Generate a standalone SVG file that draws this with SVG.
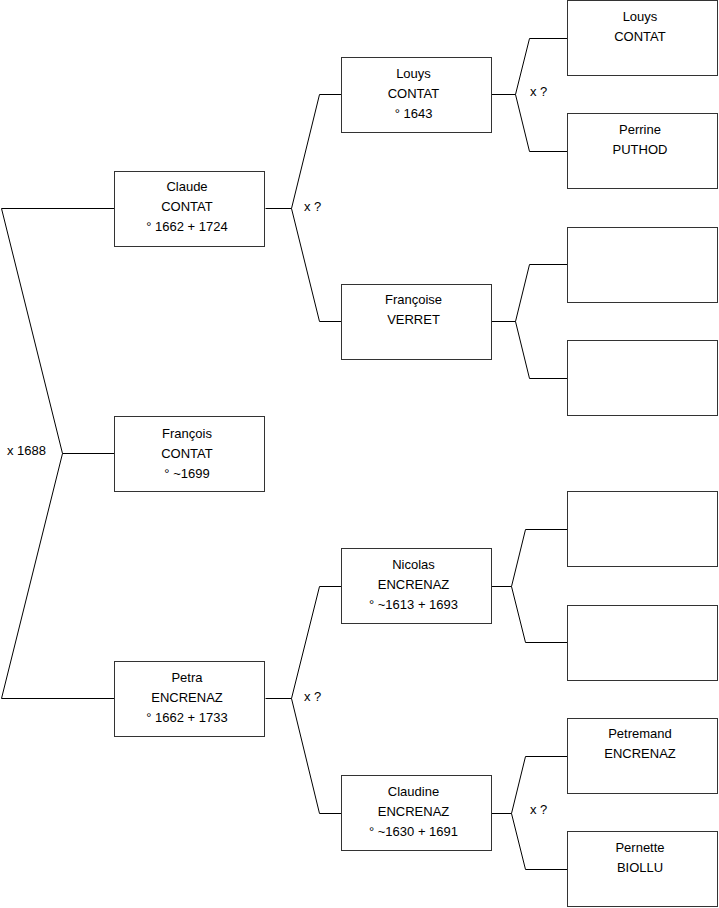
<svg xmlns="http://www.w3.org/2000/svg" width="719" height="908" viewBox="0 0 719 908">
<style>
rect{fill:#fff;stroke:#333;stroke-width:1}
text{font-family:"Liberation Sans",Arial,sans-serif;font-size:13px;fill:#000;text-anchor:middle}
.l{text-anchor:start}
#connectors path{fill:none;stroke:#000;stroke-width:1}
</style>
<rect x="0" y="0" width="719" height="908" style="stroke:none"/>
<g id="connectors">
<path d="M114.5,208.5H1.5L62.5,453.5L1.5,698.5H114.5M62.5,453.5H114.5"/>
<path d="M265.5,208.5H291.5L319.5,94.5H341.5M291.5,208.5L319.5,321.5H341.5"/>
<path d="M265.5,698.5H291.5L319.5,586.5H341.5M291.5,698.5L319.5,813.5H341.5"/>
<path d="M491.5,94.5H515.5L529.5,38.5H567.5M515.5,94.5L529.5,151.5H567.5"/>
<path d="M491.5,321.5H515.5L529.5,264.5H567.5M515.5,321.5L529.5,378.5H567.5"/>
<path d="M491.5,586.5H511.5L525.5,529.5H567.5M511.5,586.5L525.5,642.5H567.5"/>
<path d="M491.5,813.5H511.5L525.5,756.5H567.5M511.5,813.5L525.5,869.5H567.5"/>
<text class="l" x="7" y="455">x 1688</text>
<text class="l" x="304" y="211">x ?</text>
<text class="l" x="304" y="701">x ?</text>
<text class="l" x="530" y="96">x ?</text>
<text class="l" x="530" y="814">x ?</text>
</g>
<g id="claude"><rect x="114.5" y="171.5" width="150" height="75"/><text x="187" y="191">Claude</text><text x="187" y="211">CONTAT</text><text x="187" y="231">° 1662 + 1724</text></g>
<g id="francois"><rect x="114.5" y="416.5" width="150" height="75"/><text x="187" y="438">François</text><text x="187" y="458">CONTAT</text><text x="187" y="478">° ~1699</text></g>
<g id="petra"><rect x="114.5" y="661.5" width="150" height="75"/><text x="187" y="682">Petra</text><text x="187" y="702">ENCRENAZ</text><text x="187" y="722">° 1662 + 1733</text></g>
<g id="louys1"><rect x="341.5" y="57.5" width="150" height="75"/><text x="413.5" y="78">Louys</text><text x="413.5" y="98">CONTAT</text><text x="413.5" y="118">° 1643</text></g>
<g id="francoise"><rect x="341.5" y="284.5" width="150" height="75"/><text x="413.5" y="304">Françoise</text><text x="413.5" y="324">VERRET</text></g>
<g id="nicolas"><rect x="341.5" y="548.5" width="150" height="75"/><text x="413.5" y="569">Nicolas</text><text x="413.5" y="589">ENCRENAZ</text><text x="413.5" y="609">° ~1613 + 1693</text></g>
<g id="claudine"><rect x="341.5" y="775.5" width="150" height="75"/><text x="413.5" y="796">Claudine</text><text x="413.5" y="816">ENCRENAZ</text><text x="413.5" y="836">° ~1630 + 1691</text></g>
<g id="louys2"><rect x="567.5" y="0.5" width="150" height="75"/><text x="640" y="21">Louys</text><text x="640" y="41">CONTAT</text></g>
<g id="perrine"><rect x="567.5" y="113.5" width="150" height="75"/><text x="640" y="134">Perrine</text><text x="640" y="154">PUTHOD</text></g>
<g id="empty1"><rect x="567.5" y="227.5" width="150" height="75"/></g>
<g id="empty2"><rect x="567.5" y="340.5" width="150" height="75"/></g>
<g id="empty3"><rect x="567.5" y="491.5" width="150" height="75"/></g>
<g id="empty4"><rect x="567.5" y="605.5" width="150" height="75"/></g>
<g id="petremand"><rect x="567.5" y="718.5" width="150" height="75"/><text x="640" y="738">Petremand</text><text x="640" y="758">ENCRENAZ</text></g>
<g id="pernette"><rect x="567.5" y="831.5" width="150" height="75"/><text x="640" y="852">Pernette</text><text x="640" y="872">BIOLLU</text></g>
</svg>
